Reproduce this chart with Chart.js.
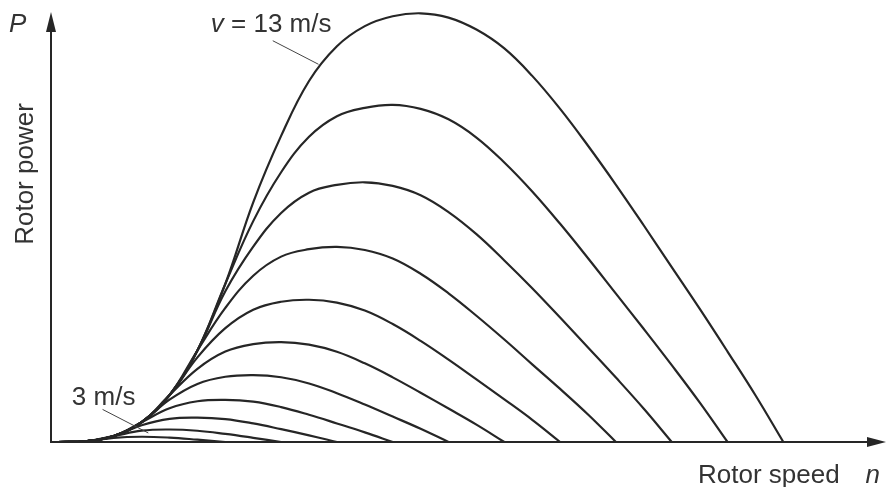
<!DOCTYPE html>
<html>
<head>
<meta charset="utf-8">
<script src="https://cdn.jsdelivr.net/npm/chart.js@4/dist/chart.umd.min.js"></script>
<style>
  html, body { margin: 0; padding: 0; background: #ffffff; }
  #wrap { width: 887px; height: 487px; }
</style>
</head>
<body>
<div id="wrap"><canvas id="chart" width="887" height="487"></canvas></div>
<script>
// Rotor speed n (shared grid, arbitrary units)
const rotorSpeed = [0, 0.5, 1, 1.5, 2, 2.5, 3, 3.5, 4, 4.5, 5, 5.5, 6, 6.5, 7, 7.5,
  8, 8.5, 9, 9.5, 10, 10.5, 11, 11.5, 12, 12.5, 13];

// Wind speeds v in m/s
const windSpeeds = [3, 4, 5, 6, 7, 8, 9, 10, 11, 12, 13];

// Rotor power P for each wind speed (relative units), sampled on the rotorSpeed grid
const power3 = [0, 0.17, 0.98, 1.23, 1.02, 0.54, 0];
const power4 = [0, 0.17, 1.37, 2.64, 2.91, 2.63, 1.89, 0.98, 0];
const power5 = [0, 0.17, 1.37, 3.91, 5.41, 5.69, 5.35, 4.34, 2.99, 1.55, 0];
const power6 = [0, 0.17, 1.37, 4.61, 7.87, 9.50, 9.83, 9.41, 8.15, 6.36, 4.33, 2.24, 0];
const power7 = [0, 0.17, 1.37, 4.61, 9.87, 13.55, 15.22, 15.61, 15.10, 13.66, 11.38, 8.74, 5.93, 3.08, 0];
const power8 = [0, 0.17, 1.37, 4.61, 10.93, 17.06, 21.09, 22.84, 23.31, 22.70, 21.04, 18.34, 15.08, 11.49, 7.81, 4.06, 0];
const power9 = [0, 0.17, 1.37, 4.61, 10.92, 19.74, 26.55, 30.86, 32.72, 33.18, 32.52, 30.66, 27.51, 23.59, 19.21, 14.60, 9.95, 5.18, 0];
const power10 = [0, 0.17, 1.37, 4.60, 10.92, 21.35, 31.27, 38.78, 43.24, 44.97, 45.52, 44.79, 42.79, 39.24, 34.68, 29.45, 23.90, 18.12, 12.38, 6.42, 0];
const power11 = [0, 0.17, 1.37, 4.61, 10.92, 21.34, 35.14, 45.56, 53.43, 58.16, 59.98, 60.58, 59.73, 57.55, 53.62, 48.47, 42.35, 35.87, 29.02, 22.05, 15.02, 7.75, 0];
const power12 = [0, 0.17, 1.37, 4.61, 10.93, 21.34, 36.89, 51.52, 62.92, 71.18, 75.98, 77.95, 78.65, 77.71, 75.27, 71.02, 65.20, 58.44, 50.89, 42.87, 34.61, 26.35, 17.93, 9.24, 0];
const power13 = [0, 0.17, 1.37, 4.61, 10.92, 21.34, 36.88, 55.9, 71.4, 84.2, 92.3, 97.0, 99.3, 100, 99.0, 96.2, 91.8, 85.4, 77.7, 69.1, 60.0, 50.5, 40.8, 31.1, 21.1, 10.9, 0];

const powerSeries = [power3, power4, power5, power6, power7, power8, power9, power10, power11, power12, power13];

// Text
const yAxisSymbol = 'P';
const yAxisTitle = 'Rotor power';
const xAxisTitle = 'Rotor speed';
const xAxisSymbol = 'n';
const topLabelPrefix = 'v';
const topLabelText = ' = 13 m/s';
const bottomLabelText = '3 m/s';

const FONT = '"Liberation Sans", Arial, Helvetica, sans-serif';
const INK = '#262626';
const TEXT = '#333333';

const datasets = powerSeries.map((vals, k) => ({
  label: windSpeeds[k] + ' m/s',
  data: vals.map((p, i) => ({ x: rotorSpeed[i], y: p })),
  borderColor: INK,
  borderWidth: 2.2,
  pointRadius: 0,
  fill: false,
  tension: 0.4,
  clip: false
}));

// Axes with arrowheads
const arrowAxes = {
  id: 'arrowAxes',
  afterDatasetsDraw(chart) {
    const { ctx, chartArea: a, scales } = chart;
    const y0 = scales.y.getPixelForValue(0);
    const x0 = a.left;
    ctx.save();
    ctx.strokeStyle = INK;
    ctx.fillStyle = INK;
    ctx.lineWidth = 2;
    ctx.beginPath();
    ctx.moveTo(x0, y0 + 1);
    ctx.lineTo(x0, a.top + 16);
    ctx.moveTo(x0 - 1, y0);
    ctx.lineTo(a.right - 16, y0);
    ctx.stroke();
    // up arrow
    ctx.beginPath();
    ctx.moveTo(x0, a.top);
    ctx.lineTo(x0 - 5, a.top + 20);
    ctx.lineTo(x0 + 5, a.top + 20);
    ctx.closePath();
    ctx.fill();
    // right arrow
    ctx.beginPath();
    ctx.moveTo(a.right, y0);
    ctx.lineTo(a.right - 19, y0 - 5);
    ctx.lineTo(a.right - 19, y0 + 5);
    ctx.closePath();
    ctx.fill();
    ctx.restore();
  }
};

// Titles and speed labels with leader lines
const labelsPlugin = {
  id: 'curveLabels',
  afterDraw(chart) {
    const { ctx, scales: { x, y } } = chart;
    ctx.save();
    ctx.fillStyle = TEXT;
    ctx.textBaseline = 'alphabetic';

    // P symbol
    ctx.font = 'italic 26px ' + FONT;
    ctx.textAlign = 'left';
    ctx.fillText(yAxisSymbol, 9, 32);

    // Rotor power (vertical)
    ctx.save();
    ctx.font = '26px ' + FONT;
    ctx.translate(33, 174);
    ctx.rotate(-Math.PI / 2);
    ctx.textAlign = 'center';
    ctx.fillText(yAxisTitle, 0, 0);
    ctx.restore();

    // Rotor speed n
    ctx.font = 'italic 26px ' + FONT;
    ctx.textAlign = 'right';
    ctx.fillText(xAxisSymbol, 880, 483);
    ctx.font = '26px ' + FONT;
    ctx.textAlign = 'left';
    ctx.fillText(xAxisTitle, 698, 483);

    // v = 13 m/s
    const tx = x.getPixelForValue(2.74), ty = y.getPixelForValue(95.6);
    ctx.font = 'italic 26px ' + FONT;
    ctx.fillText(topLabelPrefix, tx, ty);
    const w = ctx.measureText(topLabelPrefix).width;
    ctx.font = '26px ' + FONT;
    ctx.fillText(topLabelText, tx + w, ty);

    // 3 m/s
    ctx.fillText(bottomLabelText, x.getPixelForValue(0.25), y.getPixelForValue(8.6));

    // leader lines
    ctx.strokeStyle = '#444444';
    ctx.lineWidth = 1;
    ctx.beginPath();
    ctx.moveTo(x.getPixelForValue(3.85), y.getPixelForValue(93.6));
    ctx.lineTo(x.getPixelForValue(4.67), y.getPixelForValue(88.1));
    ctx.moveTo(x.getPixelForValue(0.80), y.getPixelForValue(7.6));
    ctx.lineTo(x.getPixelForValue(1.62), y.getPixelForValue(2.1));
    ctx.stroke();
    ctx.restore();
  }
};

new Chart(document.getElementById('chart'), {
  type: 'line',
  data: { datasets },
  options: {
    responsive: false,
    animation: false,
    devicePixelRatio: 1,
    layout: { padding: { left: 51, right: 1, top: 12, bottom: 45 } },
    plugins: { legend: { display: false }, tooltip: { enabled: false }, title: { display: false } },
    scales: {
      x: { type: 'linear', min: -0.124, max: 14.84, display: false },
      y: { type: 'linear', min: 0, max: 100.3, display: false }
    }
  },
  plugins: [arrowAxes, labelsPlugin]
});
</script>
</body>
</html>
